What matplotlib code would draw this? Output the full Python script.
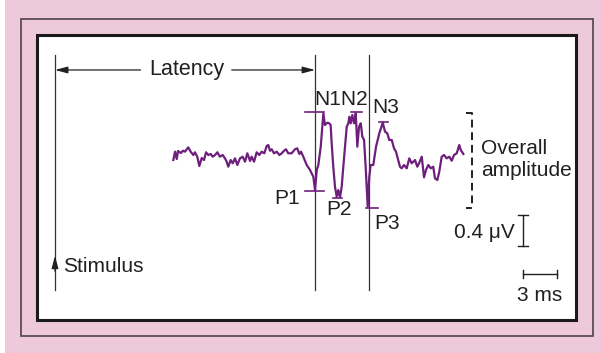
import matplotlib.pyplot as plt
from matplotlib.patches import Rectangle

plt.rcParams['font.family'] = ['Liberation Sans', 'DejaVu Sans']

# evoked response trace: time after stimulus (ms) and amplitude (uV)
time_ms = [10.38, 10.53, 10.68, 10.79, 11.03, 11.23, 11.40, 11.69, 11.90, 12.13,
           12.28, 12.48, 12.66, 12.87, 13.07, 13.25, 13.45, 13.66, 13.83, 14.04,
           14.24, 14.47, 14.71, 14.91, 15.06, 15.20, 15.41, 15.59, 15.79, 15.99,
           16.23, 16.46, 16.67, 16.87, 17.11, 17.25, 17.46, 17.69, 17.92, 18.13,
           18.36, 18.57, 18.71, 18.86, 19.01, 19.21, 19.45, 19.68, 19.89, 20.09,
           20.26, 20.46, 20.76, 21.05, 21.25, 21.43, 21.58, 21.78, 22.08, 22.37,
           22.66, 22.81, 22.96, 23.10, 23.31, 23.45, 23.54, 23.68, 23.89, 24.06,
           24.18, 24.27, 24.41, 24.56, 24.71, 24.85, 25.00, 25.15, 25.29, 25.44,
           25.59, 25.73, 25.82, 25.94, 26.08, 26.23, 26.38, 26.52, 26.67, 26.82,
           26.96, 27.11, 27.25, 27.43, 27.57, 27.69, 27.92, 28.16, 28.45, 28.75,
           28.95, 29.15, 29.32, 29.54, 29.74, 29.91, 30.03, 30.26, 30.41, 30.61,
           30.85, 31.08, 31.29, 31.58, 31.78, 31.96, 32.17, 32.37, 32.54, 32.75,
           32.96, 33.18, 33.33, 33.54, 33.71, 33.92, 34.12, 34.36, 34.59, 34.80,
           35.00, 35.24, 35.46, 35.59, 35.82]
amp_uv = [-0.065, 0.043, -0.052, 0.052, 0.026, 0.055, 0.043, 0.099, 0.043, 0.0,
          0.035, -0.022, -0.142, -0.039, -0.065, 0.035, 0.0, 0.013, -0.022, 0.0,
          0.035, -0.022, 0.0, -0.043, -0.086, -0.151, -0.065, -0.107, -0.043, -0.129,
          -0.043, -0.022, -0.086, 0.022, -0.077, -0.022, -0.086, 0.035, 0.0, 0.043,
          0.022, 0.116, 0.129, 0.055, 0.074, 0.022, 0.043, 0.0, 0.022, 0.055,
          0.074, 0.022, 0.022, 0.074, 0.086, 0.013, 0.043, -0.022, -0.129, -0.194,
          -0.280, -0.452, -0.194, -0.129, 0.107, 0.365, 0.538, 0.387, 0.417, 0.409,
          0.387, 0.151, -0.151, -0.409, -0.538, -0.452, -0.546, -0.409, -0.151, 0.107,
          0.365, 0.409, 0.494, 0.409, 0.516, 0.409, 0.538, 0.107, 0.365, 0.409,
          0.236, 0.194, -0.151, -0.667, -0.280, -0.129, -0.129, 0.107, 0.280, 0.417,
          0.301, 0.280, 0.194, 0.194, 0.086, 0.043, -0.022, -0.151, -0.172, -0.129,
          -0.172, -0.043, -0.107, -0.065, -0.151, -0.099, -0.022, -0.288, -0.194, -0.129,
          -0.172, -0.151, -0.301, -0.323, -0.215, -0.022, 0.0, -0.043, -0.022, -0.074,
          0.0, 0.022, 0.129, 0.065, 0.013]

# peak labels: name, marker start/end (ms), level (uV)
peak_names = ['N1', 'P1', 'N2', 'P2', 'N3', 'P3']
peak_t0 = [21.9, 21.9, 26.0, 24.4, 28.45, 27.3]
peak_t1 = [23.6, 23.6, 26.9, 25.2, 29.25, 28.3]
peak_level = [0.555, -0.465, 0.555, -0.555, 0.426, -0.684]

stimulus_ms = 0.0
latency_ms = 22.81
p3_ms = 27.54
scale_uv = 0.4
scale_ms = 3

# layout: pixels per unit and where t=0 / 0 uV sit in the 601x353 picture
W, H = 601, 353
PX_MS, PX_UV = 11.4, 77.5
X0, Y0 = 55, 155

purple = '#6e1f7c'
ink = '#231f20'

fig = plt.figure(figsize=(W / 100, H / 100), dpi=100)
fig.patch.set_facecolor('white')

# frames, drawn in pixel units
bg = fig.add_axes([0, 0, 1, 1])
bg.set_xlim(0, W)
bg.set_ylim(H, 0)
bg.axis('off')
bg.add_patch(Rectangle((5, 0), W - 5, H, facecolor='#edc9d9', edgecolor='none'))
bg.add_patch(Rectangle((21, 19), 572, 317, facecolor='none', edgecolor='#4d4448', lw=1.2))
bg.add_patch(Rectangle((37, 35), 539, 285, facecolor='white', edgecolor='#1a1a1a', lw=2.2))

# trace axes in ms / uV
ax = fig.add_axes([0, 0, 1, 1])
ax.set_xlim(-X0 / PX_MS, (W - X0) / PX_MS)
ax.set_ylim((Y0 - H) / PX_UV, Y0 / PX_UV)
ax.axis('off')
ax.patch.set_alpha(0)

top, bottom = (Y0 - 55) / PX_UV, (Y0 - 290) / PX_UV
for t in [stimulus_ms, latency_ms, p3_ms]:
    ax.plot([t, t], [bottom, top], color='#333333', lw=0.9)

arrow = dict(arrowstyle='-|>,head_length=0.75,head_width=0.2', color=ink, lw=0.9,
             shrinkA=0, shrinkB=0)

# stimulus arrow
ax.annotate('', xy=(stimulus_ms, -1.30), xytext=(stimulus_ms, -1.50), arrowprops=arrow)
ax.text(0.7, -1.445, 'Stimulus', fontsize=15, color=ink, va='center', ha='left')

# latency arrow
lat_y = 1.097
ax.text((stimulus_ms + latency_ms) / 2 + 0.15, lat_y, 'Latency', fontsize=15.5,
        color=ink, va='center', ha='center')
ax.annotate('', xy=(stimulus_ms, lat_y), xytext=(7.5, lat_y), arrowprops=arrow)
ax.annotate('', xy=(latency_ms, lat_y), xytext=(15.5, lat_y), arrowprops=arrow)

# trace and peak markers
ax.plot(time_ms, amp_uv, color=purple, lw=1.6, solid_joinstyle='round')
for t0, t1, lv in zip(peak_t0, peak_t1, peak_level):
    ax.plot([t0, t1], [lv, lv], color=purple, lw=1.2)

ax.text(25.1, 0.72, 'N1N2', fontsize=15, color=ink, ha='center', va='center')
ax.text(29.04, 0.61, 'N3', fontsize=15, color=ink, ha='center', va='center')
ax.text(20.35, -0.555, 'P1', fontsize=15, color=ink, ha='center', va='center')
ax.text(24.9, -0.70, 'P2', fontsize=15, color=ink, ha='center', va='center')
ax.text(29.1, -0.89, 'P3', fontsize=15, color=ink, ha='center', va='center')

# overall amplitude bracket
bx, btick = 36.58, 36.05
b_top, b_bot = 0.542, -0.684
ax.plot([btick, bx, bx, btick], [b_top, b_top, b_bot, b_bot], color=ink, lw=1.4,
        ls=(0, (4, 2.5)))
ax.text(37.37, 0.09, 'Overall', fontsize=15, color=ink, va='center', ha='left')
ax.text(37.37, -0.206, 'amplitude', fontsize=15, color=ink, va='center', ha='left')

# calibration bars
sx, sy = 41.05, -0.774
ax.plot([sx, sx], [sy, sy - scale_uv], color=ink, lw=1.0)
for yy in [sy, sy - scale_uv]:
    ax.plot([sx - 0.4, sx + 0.4], [yy, yy], color=ink, lw=1.0)
ax.text(40.3, -1.006, '0.4 \u03bcV', fontsize=15, color=ink, va='center', ha='right')

hy = -1.535
ax.plot([sx, sx + scale_ms], [hy, hy], color=ink, lw=1.0)
for xx in [sx, sx + scale_ms]:
    ax.plot([xx, xx], [hy - 0.05, hy + 0.05], color=ink, lw=1.0)
ax.text(sx + scale_ms / 2, -1.81, '3 ms', fontsize=15, color=ink, va='center', ha='center')

fig.savefig('out.png', dpi=100)
